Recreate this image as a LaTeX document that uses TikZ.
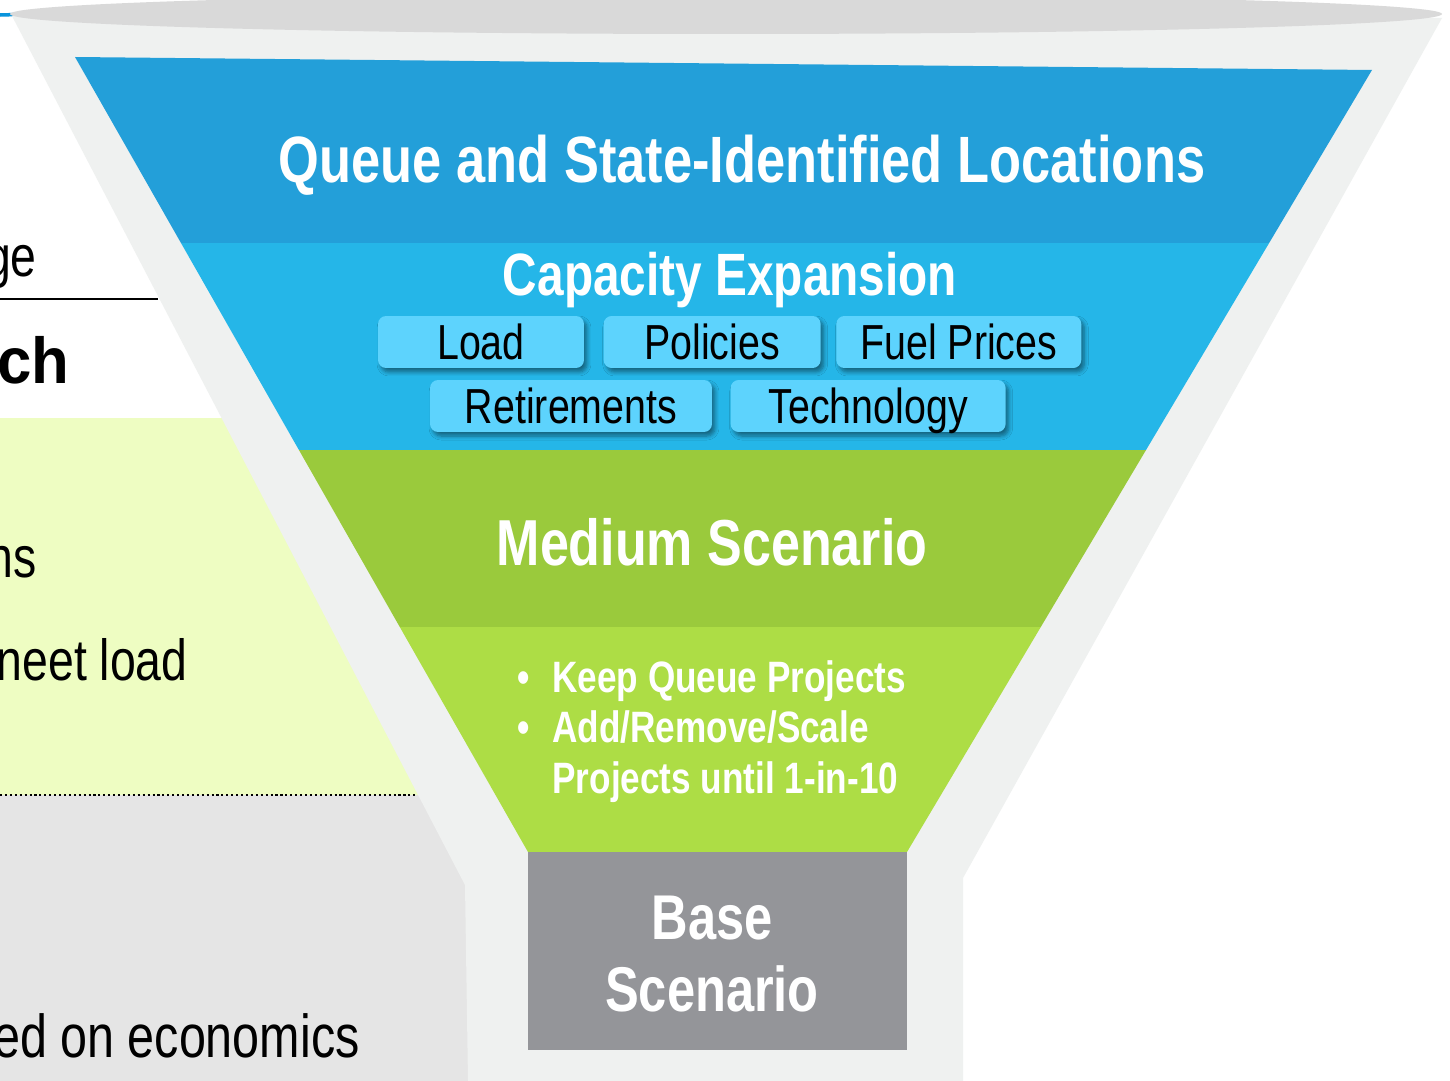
\documentclass[tikz,border=0pt]{standalone}
\usepackage{fontspec}
\setmainfont{Liberation Sans}[FakeStretch=0.8]
\newfontfamily\widefont{Liberation Sans}[FakeStretch=0.95]
\usetikzlibrary{positioning,shadows.blur}

\definecolor{queueblue}{RGB}{35,159,217}
\definecolor{capblue}{RGB}{37,182,232}
\definecolor{tagcyan}{RGB}{93,211,253}
\definecolor{medgreen}{RGB}{154,202,60}
\definecolor{keepgreen}{RGB}{173,221,69}
\definecolor{basegray}{RGB}{148,149,153}
\definecolor{rimgray}{RGB}{239,241,240}
\definecolor{lipgray}{RGB}{217,217,217}
\definecolor{notegreen}{RGB}{238,253,194}
\definecolor{notegray}{RGB}{229,229,229}

\tikzset{
  tagbox/.style={fill=tagcyan, rounded corners=0.16cm, minimum height=1.04cm, inner sep=0pt,
    text height=20pt, text depth=0pt, font=\fontsize{28}{32}\selectfont,
    blur shadow={shadow xshift=0.06cm, shadow yshift=-0.08cm, shadow blur steps=6,
      shadow blur radius=0.08cm, shadow opacity=45}},
  bandtext/.style={text=white, inner sep=0pt, anchor=base, font=\bfseries\fontsize{#1}{#1}\selectfont},
  sidetext/.style={inner sep=0pt, anchor=base east, font=\fontsize{33}{38}\selectfont}
}

\begin{document}
\begin{tikzpicture}[x=0.02cm, y=-0.02cm]
\useasboundingbox (0,0) rectangle (1450,1081);
\fill[white] (0,0) rectangle (1450,1081);

% notes on the left
\fill[notegreen] (0,418) rectangle (480,795);
\fill[notegray] (0,795) rectangle (480,1081);
\draw[line width=1.2pt, dash pattern=on 1.2pt off 1.6pt] (0,795) -- (418,795);
\draw[line width=1.2pt] (0,299) -- (158,299);
\draw[cyan!80!blue, line width=2pt] (0,15) -- (36,14);
\node[sidetext] (ge) at (37,276) {ge};
\node[sidetext, font=\widefont\bfseries\fontsize{37}{40}\selectfont] (ch) at (70,383) {ch};
\node[sidetext] (ns) at (37,577) {ns};
\node[sidetext] (neet) at (188,680) {neet load};
\node[sidetext, font=\fontsize{34.5}{38}\selectfont] (econ) at (360,1057) {ed on economics};

% funnel rim and lip
\fill[rimgray] (12,16) -- (465,885) -- (468,1081) -- (963,1081) -- (963,878) -- (1442,18) -- cycle;
\fill[lipgray] (726,14) ellipse [x radius=716, y radius=20];

% bands
\begin{scope}
\clip (75,57) -- (1372,70) -- (907,852) -- (528,852) -- cycle;
\fill[queueblue] (0,0) rectangle (1450,243);
\fill[capblue] (0,243) rectangle (1450,450);
\fill[medgreen] (0,450) rectangle (1450,627);
\fill[keepgreen] (0,627) rectangle (1450,852);
\end{scope}

\node[bandtext=37.3] (queue) at (742,183) {Queue and State-Identified Locations};
\node[bandtext=34] (capacity) at (730,296) {Capacity Expansion};

\node[tagbox, minimum width=4.12cm] (load) at (481,342) {Load};
\node[tagbox, minimum width=4.34cm, right=0.38cm of load] (policies) {Policies};
\node[tagbox, minimum width=4.9cm, right=0.3cm of policies] (fuel) {Fuel Prices};
\node[tagbox, minimum width=5.64cm] (retire) at (571,406) {Retirements};
\node[tagbox, minimum width=5.5cm, right=0.36cm of retire] (tech) {Technology};

\node[bandtext=37] (medium) at (712,565) {Medium Scenario};
\node[text=white, inner sep=0pt, anchor=base west, font=\bfseries\fontsize{25}{29}\selectfont] (steps) at (517,692)
  {\begin{tabular}[t]{@{}l@{\hspace{13pt}}l@{}}
   \textbullet & Keep Queue Projects\\
   \textbullet & Add/Remove/Scale\\
               & Projects until 1-in-10
   \end{tabular}};

\node[fill=basegray, minimum width=7.58cm, minimum height=3.96cm] (base) at (717.5,951) {};
\node[text=white, align=center, font=\bfseries\fontsize{36}{41}\selectfont] (basename) at (712,954) {Base\\Scenario};
\end{tikzpicture}
\end{document}
